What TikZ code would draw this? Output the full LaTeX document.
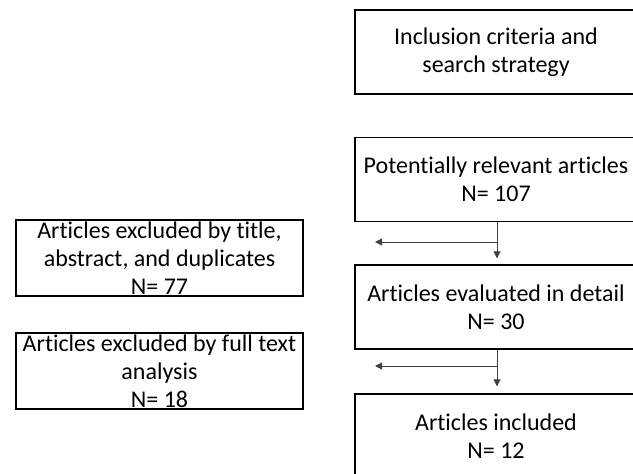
\documentclass[tikz,border=0pt]{standalone}
\usepackage{fontspec}
\setmainfont{Carlito}[Ligatures=NoCommon]
\usetikzlibrary{arrows.meta}

\begin{document}
\begin{tikzpicture}[x=1pt, y=-1pt,
    box/.style={draw, line width=1.4pt, inner sep=0pt, align=center,
        font=\fontsize{24}{28}\selectfont},
    mainbox/.style={box, minimum width=282pt, minimum height=84pt},
    outbox/.style={box, minimum width=287pt, minimum height=76pt},
    flow/.style={draw=black!75, line width=0.9pt, -{Triangle[width=7pt, length=7pt]}}]
        \clip (0,0) rectangle (633,474);

        % Main boxes
        \node[mainbox] (crit) at (496,52) {Inclusion criteria and\\search strategy};
        \node[mainbox] (pot)  at (496,179.5) {Potentially relevant articles\\N= 107};
        \node[mainbox] (eval) at (496,307) {Articles evaluated in detail\\N= 30};
        \node[mainbox] (incl) at (496,436) {Articles included\\N= 12};

        % Excluded articles
        \node[outbox] (exa) at (159.5,258) {Articles excluded by title,\\abstract, and duplicates\\N= 77};
        \node[outbox] (exb) at (159.5,371) {Articles excluded by full text\\analysis\\N= 18};

        % Branch points
        \coordinate (b1) at (497,242);
        \coordinate (e1) at (375,242);
        \coordinate (b2) at (497,366);
        \coordinate (e2) at (375,366);

        % Connect boxes
        \draw[flow, shorten >=6pt] (pot.south -| b1) -- (eval.north -| b1);
        \draw[flow, shorten >=7pt] (eval.south -| b2) -- (incl.north -| b2);
        \draw[flow] (b1) -- (e1);
        \draw[flow] (b2) -- (e2);
    \end{tikzpicture}
\end{document}
